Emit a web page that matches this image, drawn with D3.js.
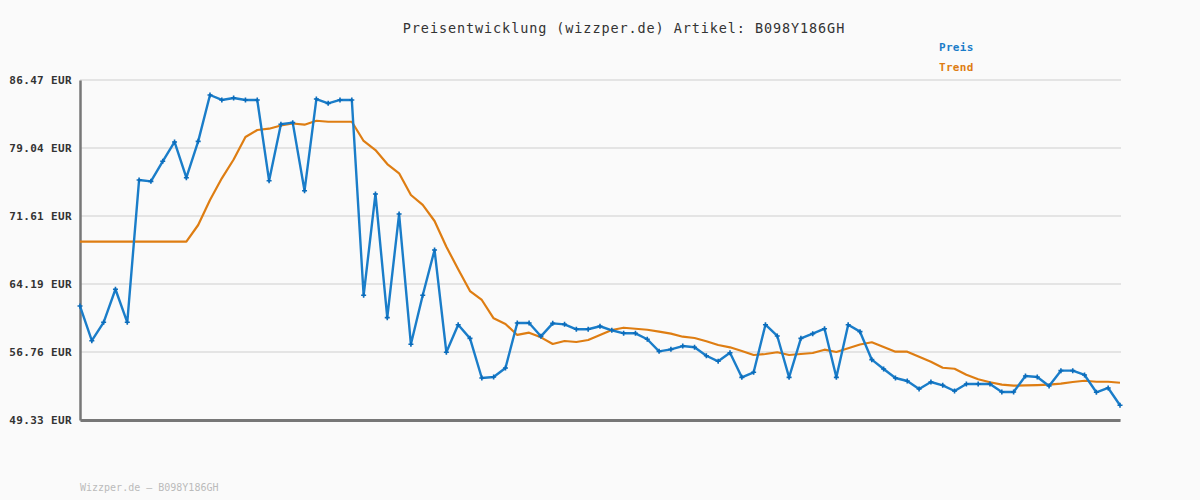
<!DOCTYPE html>
<html>
<head>
<meta charset="utf-8">
<script src="https://cdn.jsdelivr.net/npm/d3@7"></script>
<style>
  html, body { margin: 0; padding: 0; background: #fafafa; }
  svg { display: block; }
  text { font-family: "DejaVu Sans Mono", "Liberation Mono", monospace; }
</style>
</head>
<body>
<svg id="chart" width="1200" height="500"></svg>
<script>
const titleText = "Preisentwicklung (wizzper.de) Artikel: B098Y186GH";
const footerText = "Wizzper.de \u2013 B098Y186GH";
const seriesNames = ["Preis", "Trend"];
const yTicks = [49.33, 56.76, 64.19, 71.61, 79.04, 86.47];
const yTickLabels = ["49.33 EUR", "56.76 EUR", "64.19 EUR", "71.61 EUR", "79.04 EUR", "86.47 EUR"];

const preis = [
  61.78, 57.99, 60.00, 63.61, 60.00, 75.55, 75.40, 77.59, 79.70, 75.80,
  79.77, 84.83, 84.29, 84.50, 84.29, 84.29, 75.47, 81.63, 81.81, 74.38,
  84.39, 83.92, 84.29, 84.29, 62.95, 74.02, 60.51, 71.83, 57.60, 62.95,
  67.90, 56.73, 59.74, 58.25, 53.92, 54.03, 55.01, 59.93, 59.93, 58.47,
  59.89, 59.78, 59.24, 59.24, 59.57, 59.13, 58.80, 58.80, 58.15, 56.83,
  57.05, 57.41, 57.27, 56.35, 55.74, 56.68, 53.99, 54.54, 59.74, 58.51,
  53.99, 58.25, 58.76, 59.30, 53.99, 59.74, 58.98, 55.92, 54.90, 53.92,
  53.59, 52.72, 53.48, 53.12, 52.50, 53.26, 53.26, 53.26, 52.39, 52.39,
  54.14, 54.03, 53.04, 54.72, 54.72, 54.25, 52.36, 52.83, 50.94
];

const trend = [
  68.81, 68.81, 68.81, 68.81, 68.81, 68.81, 68.81, 68.81, 68.81, 68.81,
  70.63, 73.36, 75.73, 77.79, 80.24, 81.01, 81.15, 81.50, 81.72, 81.59,
  82.02, 81.91, 81.91, 81.91, 79.81, 78.82, 77.29, 76.28, 73.91, 72.82,
  71.07, 68.26, 65.79, 63.42, 62.44, 60.44, 59.82, 58.62, 58.87, 58.36,
  57.63, 57.96, 57.85, 58.07, 58.62, 59.16, 59.41, 59.30, 59.19, 58.98,
  58.76, 58.43, 58.29, 57.93, 57.52, 57.27, 56.87, 56.43, 56.54, 56.73,
  56.43, 56.54, 56.65, 57.01, 56.76, 57.16, 57.58, 57.82, 57.30, 56.79,
  56.79, 56.24, 55.70, 55.04, 54.93, 54.28, 53.78, 53.45, 53.19, 53.08,
  53.12, 53.15, 53.19, 53.30, 53.48, 53.62, 53.51, 53.51, 53.40
];

const colors = { preis: "#1a7dc9", preisMark: "#0b6cbb", trend: "#de7d12" };

const svg = d3.select("#chart");
const mLeft = 80, mRight = 1120, mTop = 80, mBottom = 420;

const x = d3.scaleLinear().domain([0, preis.length - 1]).range([mLeft, mRight]);
const y = d3.scaleLinear().domain([yTicks[0], yTicks[yTicks.length - 1]]).range([mBottom, mTop]);

// background
svg.append("rect").attr("width", 1200).attr("height", 500).attr("fill", "#fafafa");

// grid
svg.append("g").selectAll("line").data(yTicks).join("line")
  .attr("x1", mLeft).attr("x2", mRight + 1)
  .attr("y1", d => y(d)).attr("y2", d => y(d))
  .attr("stroke", "#e4e4e4").attr("stroke-width", 2);

// y axis
const yAxis = d3.axisLeft(y).tickValues(yTicks)
  .tickFormat((d, i) => yTickLabels[i]).tickSize(0).tickPadding(8);
const gy = svg.append("g").attr("transform", `translate(${mLeft},0)`).call(yAxis);
gy.select(".domain").attr("stroke", "#777").attr("stroke-width", 2.5);
gy.selectAll("text")
  .attr("fill", "#333").attr("font-size", 11).attr("font-weight", "bold")
  .attr("letter-spacing", 0.35)
  .style("font-family", "'DejaVu Sans Mono', monospace");

// x axis line
const xAxis = d3.axisBottom(x).tickValues([]).tickSize(0);
const gx = svg.append("g").attr("transform", `translate(0,${mBottom})`).call(xAxis);
gx.select(".domain").attr("stroke", "#777").attr("stroke-width", 3);

// trend line
const line = d3.line().x((d, i) => x(i)).y(d => y(d));
svg.append("path").datum(trend)
  .attr("d", line).attr("fill", "none")
  .attr("stroke", colors.trend).attr("stroke-width", 2.2)
  .attr("stroke-linejoin", "round");

// price line
svg.append("path").datum(preis)
  .attr("d", line).attr("fill", "none")
  .attr("stroke", colors.preis).attr("stroke-width", 2.4)
  .attr("stroke-linejoin", "round");

// price markers (small crosses)
const mk = svg.append("g");
preis.forEach((v, i) => {
  const cx = x(i), cy = y(v);
  mk.append("path")
    .attr("d", `M${cx - 2.5},${cy}H${cx + 2.5}M${cx},${cy - 2.5}V${cy + 2.5}`)
    .attr("stroke", colors.preisMark).attr("stroke-width", 1.6);
});

// title
svg.append("text").attr("x", 624).attr("y", 33)
  .attr("text-anchor", "middle").attr("font-size", 13.5)
  .attr("letter-spacing", 0.9).attr("fill", "#333")
  .text(titleText);

// legend
svg.append("text").attr("x", 939).attr("y", 51)
  .attr("font-size", 11).attr("font-weight", "bold").attr("letter-spacing", 0.3)
  .attr("fill", colors.preis).text(seriesNames[0]);
svg.append("text").attr("x", 939).attr("y", 71)
  .attr("font-size", 11).attr("font-weight", "bold").attr("letter-spacing", 0.3)
  .attr("fill", colors.trend).text(seriesNames[1]);

// footer
svg.append("text").attr("x", 80).attr("y", 491)
  .attr("font-size", 10).attr("fill", "#bbb")
  .text(footerText);
</script>
</body>
</html>
